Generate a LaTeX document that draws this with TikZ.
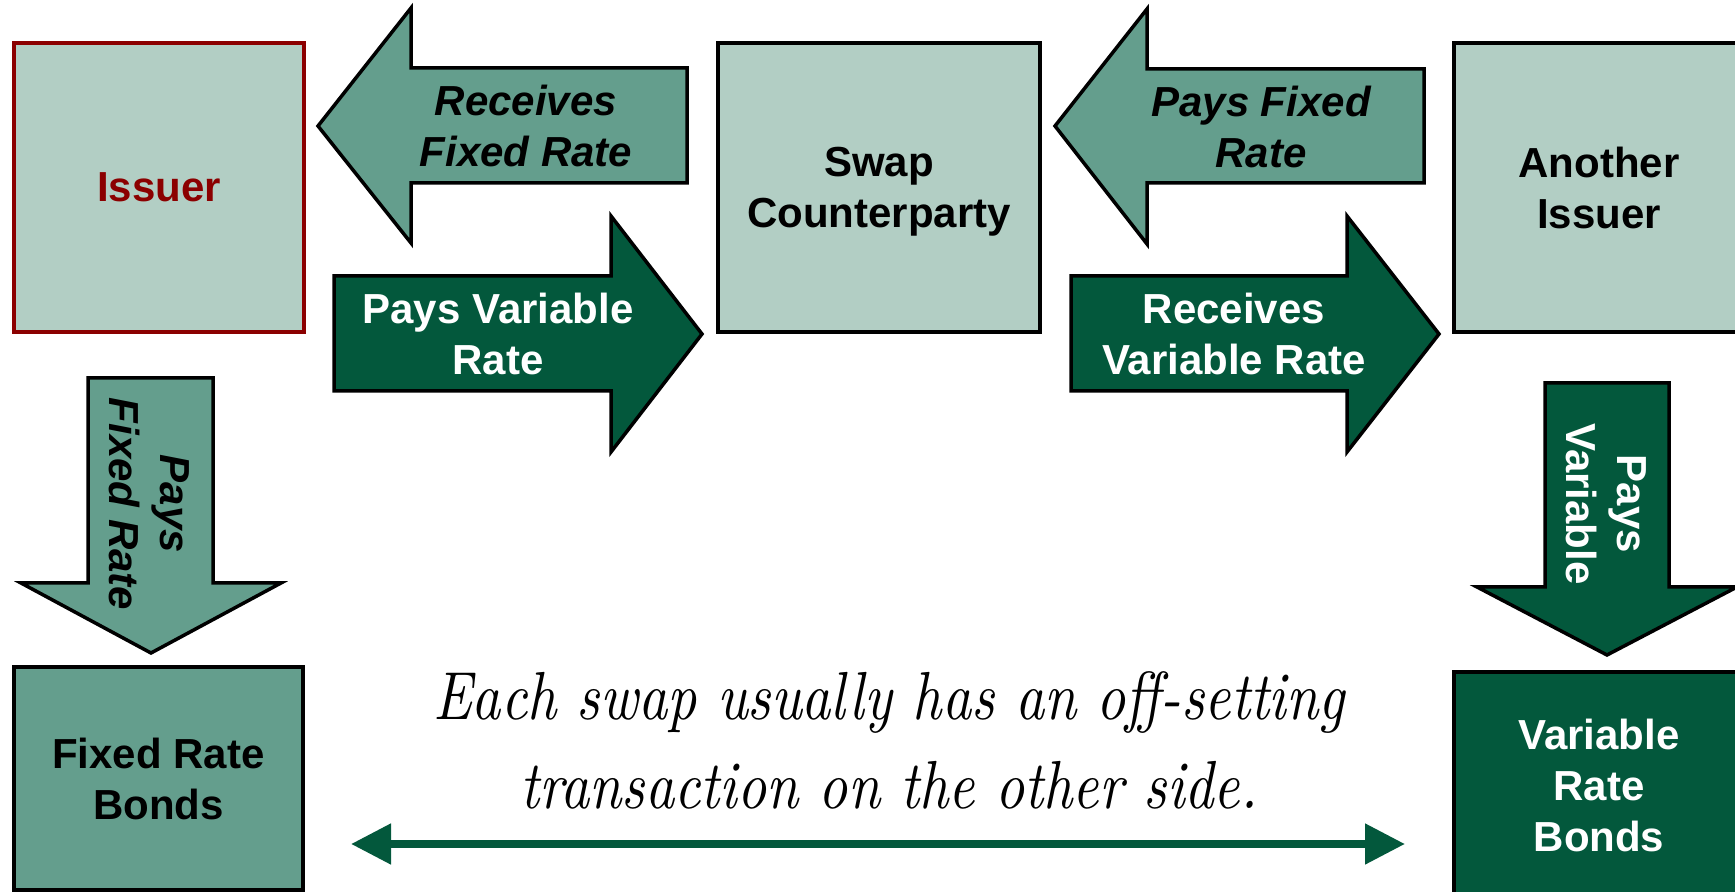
\documentclass[tikz,border=0pt]{standalone}
\usepackage{fontspec}
\setmainfont{Liberation Sans}
\newfontfamily\notefont{lmroman10-italic.otf}[FakeStretch=0.84]
\usetikzlibrary{arrows.meta}

\definecolor{partyfill}{RGB}{178,206,196}
\definecolor{fixedgreen}{RGB}{100,158,141}
\definecolor{floatgreen}{RGB}{3,88,60}
\definecolor{issuerred}{RGB}{139,0,0}

\tikzset{
	party/.style={draw=black, line width=1.75pt, fill=partyfill, inner sep=0pt, align=center,
		font=\bfseries\fontsize{21}{25.5}\selectfont},
	fixedflow/.style={draw=black, line width=1.75pt, fill=fixedgreen},
	floatflow/.style={draw=black, line width=1.75pt, fill=floatgreen},
	flowtext/.style={inner sep=0pt, align=center, font=\bfseries\fontsize{21}{25.5}\selectfont},
}

\begin{document}
\begin{tikzpicture}[x=0.5pt,y=-0.5pt]
	\useasboundingbox (0,0) rectangle (1735,892);
	\clip (0,0) rectangle (1735,892);

	% PARTIES
	\node[party, draw=issuerred, text=issuerred, minimum width=145pt, minimum height=144.5pt] (issuer) at (159,187.5) {Issuer};
	\node[party, minimum width=161pt, minimum height=144.5pt, text depth=0pt] (swap) at (879,187.5) {Swap\\Counterparty};
	\node[party, minimum width=145pt, minimum height=144.5pt] (another) at (1599,187.5) {Another\\Issuer};

	% BONDS
	\node[party, fill=fixedgreen, minimum width=144.5pt, minimum height=111.5pt] (fixedbonds) at (158.5,778.5) {Fixed Rate\\Bonds};
	\node[party, fill=floatgreen, text=white, minimum width=145pt, minimum height=113pt] (floatbonds) at (1599,785) {Variable\\Rate\\Bonds};

	% ISSUER <-> SWAP COUNTERPARTY
	\draw[fixedflow] (318,126) -- (411,8) -- (411,68) -- (687,68) -- (687,183) -- (411,183) -- (411,243) -- cycle;
	\node[flowtext, font=\bfseries\itshape\fontsize{21}{25.5}\selectfont] (recfixed) at (526,126.5) {Receives\\Fixed Rate};

	\draw[floatflow] (334,276) -- (611,276) -- (611,216) -- (702,334) -- (611,452) -- (611,391) -- (334,391) -- cycle;
	\node[flowtext, text=white] (payfloat) at (498,334) {Pays Variable\\Rate};

	% SWAP COUNTERPARTY <-> ANOTHER ISSUER
	\draw[fixedflow] (1055,126) -- (1147,9) -- (1147,69) -- (1424,69) -- (1424,183) -- (1147,183) -- (1147,244) -- cycle;
	\node[flowtext, font=\bfseries\itshape\fontsize{21}{25.5}\selectfont] (payfixed) at (1261,127) {Pays Fixed\\Rate};

	\draw[floatflow] (1071,276) -- (1347,276) -- (1347,216) -- (1439,334) -- (1347,452) -- (1347,391) -- (1071,391) -- cycle;
	\node[flowtext, text=white] (recfloat) at (1234,334) {Receives\\Variable Rate};

	% DOWN TO THE BONDS
	\draw[fixedflow] (88,378) -- (213,378) -- (213,583) -- (281,583) -- (151,653) -- (21,583) -- (88,583) -- cycle;
	\node[flowtext, rotate=-90, font=\bfseries\itshape\fontsize{21}{25.5}\selectfont] (bondfixed) at (149,504) {Pays\\Fixed Rate};

	\draw[floatflow] (1545,383) -- (1669,383) -- (1669,587) -- (1737,587) -- (1607,655) -- (1477,587) -- (1545,587) -- cycle;
	\node[flowtext, rotate=-90, text=white] (bondfloat) at (1606,504) {Pays\\Variable};

	% OFFSETTING NOTE
	\node[inner sep=0pt, align=center, font=\notefont\fontsize{34}{44.5}\selectfont] (note) at (889,740) {Each swap usually has an off-setting\\transaction on the other side.};

	\coordinate (offleft) at (351,844);
	\coordinate (offright) at (1405,844);
	\draw[floatgreen, line width=4pt, {Triangle[length=20pt,width=19.5pt]}-{Triangle[length=20pt,width=19.5pt]}] (offleft) -- (offright);
\end{tikzpicture}
\end{document}
